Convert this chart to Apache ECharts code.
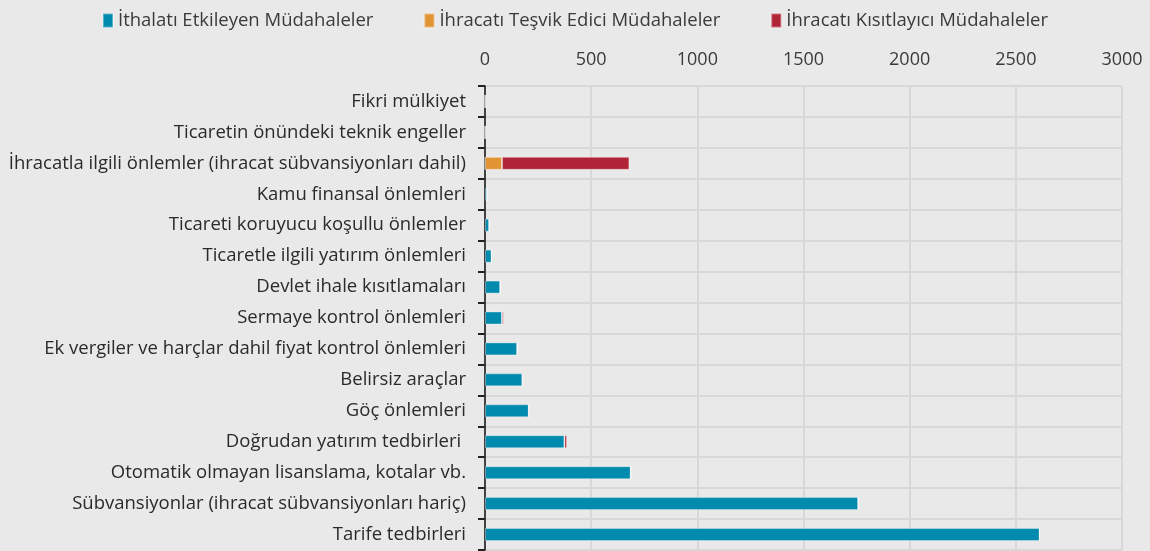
<!DOCTYPE html>
<html>
<head>
<meta charset="utf-8">
<script src="https://cdn.jsdelivr.net/npm/echarts@6/dist/echarts.min.js"></script>
<style>
  html, body { margin: 0; padding: 0; background: #e9e9e9; }
  #chart { width: 1150px; height: 551px; }
</style>
</head>
<body>
<div id="chart"></div>
<script>
// kategoriler (yukarıdan aşağıya)
const categories = [
  'Fikri mülkiyet',
  'Ticaretin önündeki teknik engeller',
  'İhracatla ilgili önlemler (ihracat sübvansiyonları dahil)',
  'Kamu finansal önlemleri',
  'Ticareti koruyucu koşullu önlemler',
  'Ticaretle ilgili yatırım önlemleri',
  'Devlet ihale kısıtlamaları',
  'Sermaye kontrol önlemleri',
  'Ek vergiler ve harçlar dahil fiyat kontrol önlemleri',
  'Belirsiz araçlar',
  'Göç önlemleri',
  'Doğrudan yatırım tedbirleri ',
  'Otomatik olmayan lisanslama, kotalar vb.',
  'Sübvansiyonlar (ihracat sübvansiyonları hariç)',
  'Tarife tedbirleri'
]
// seri değerleri
const ithalat = [1, 1, 0, 10, 20, 31, 72, 80, 152, 176, 206, 374, 686, 1758, 2612]
const tesvik = [0, 0, 80, 0, 0, 0, 0, 0, 0, 0, 0, 0, 0, 0, 0]
const kisitlayici = [0, 0, 600, 0, 0, 0, 0, 8, 0, 5, 0, 12, 2, 0, 0]
const xTicks = [0, 500, 1000, 1500, 2000, 2500, 3000]

const font = 'Open Sans'
const chart = echarts.init(document.getElementById('chart'))

const makeSeries = (name, data, color) => ({
  name,
  type: 'bar',
  stack: 'toplam',
  data,
  barWidth: 13,
  itemStyle: {
    color,
    borderColor: 'rgba(255,255,255,0.35)',
    borderWidth: 1
  }
})

chart.setOption({
  backgroundColor: '#e9e9e9',
  animation: false,
  legend: {
    top: 6,
    left: 'center',
    itemWidth: 10,
    itemHeight: 14,
    itemGap: 50,
    icon: 'rect',
    textStyle: { fontFamily: font, fontSize: 18.5, color: '#3a3a3a' }
  },
  grid: {
    left: 485,
    right: 28,
    top: 86,
    bottom: 1
  },
  xAxis: {
    type: 'value',
    position: 'top',
    min: xTicks[0],
    max: xTicks[xTicks.length - 1],
    interval: 500,
    axisLine: { show: false },
    axisTick: { show: false },
    axisLabel: {
      fontFamily: font,
      fontSize: 18,
      color: '#3a3a3a',
      margin: 17,
      formatter: v => String(v)
    },
    splitLine: { lineStyle: { color: '#d8d8d8', width: 2 } }
  },
  yAxis: {
    type: 'category',
    inverse: true,
    data: categories,
    axisLine: { lineStyle: { color: '#111', width: 1.5 } },
    axisTick: { show: true, length: 7, lineStyle: { color: '#222', width: 2 } },
    axisLabel: { fontFamily: font, fontSize: 18.5, color: '#2a2a2a', margin: 19 },
    splitLine: { show: true, lineStyle: { color: '#d8d8d8', width: 2 } }
  },
  series: [
    makeSeries('İthalatı Etkileyen Müdahaleler', ithalat, '#008aad'),
    makeSeries('İhracatı Teşvik Edici Müdahaleler', tesvik, '#e09433'),
    makeSeries('İhracatı Kısıtlayıcı Müdahaleler', kisitlayici, '#b12437')
  ]
})
</script>
</body>
</html>
